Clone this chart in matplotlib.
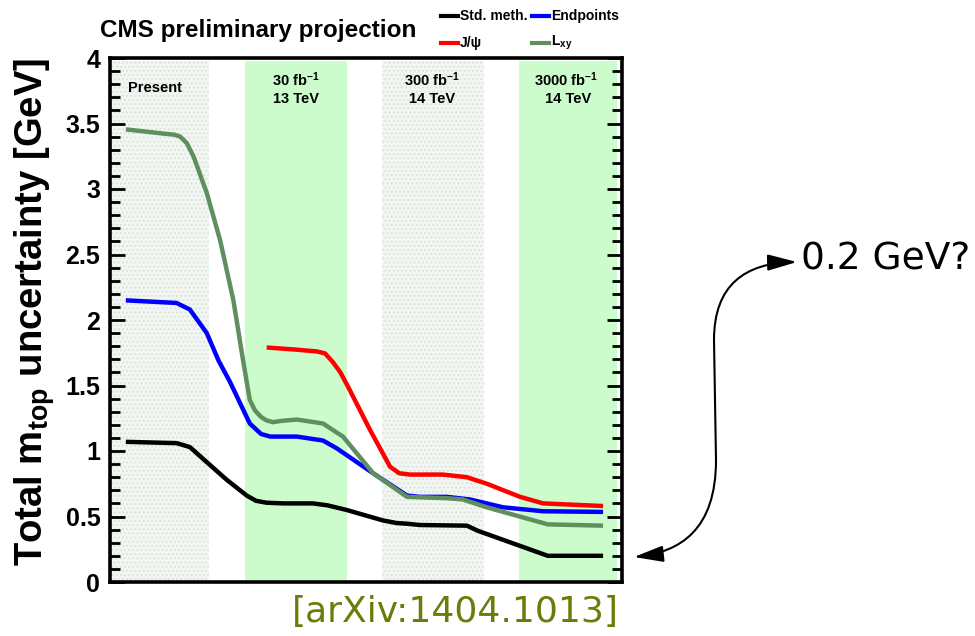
import matplotlib
import numpy as np

matplotlib.use("Agg")
import matplotlib.pyplot as plt
from matplotlib.lines import Line2D
from matplotlib.patches import FancyArrowPatch
from matplotlib.path import Path

plt.rcParams["font.family"] = ["Liberation Sans", "DejaVu Sans"]
plt.rcParams["mathtext.fontset"] = "custom"
plt.rcParams["mathtext.rm"] = "Liberation Sans:bold"
plt.rcParams["mathtext.bf"] = "Liberation Sans:bold"
plt.rcParams["mathtext.it"] = "Liberation Sans:bold"

W, H = 975, 636

# x is an arbitrary "time / luminosity" axis (0-100), no ticks shown
x_std = [3.1, 13.0, 15.6, 17.6, 22.8, 26.7, 28.5, 30.6, 34.0, 39.6, 42.5, 46.2,
         53.3, 56.0, 58.0, 60.5, 69.7, 71.9, 85.5, 96.3]
std_meth = [1.07, 1.06, 1.03, 0.96, 0.78, 0.66, 0.62, 0.605, 0.60, 0.60, 0.585, 0.55,
            0.47, 0.45, 0.445, 0.435, 0.43, 0.39, 0.20, 0.20]

x_end = [3.1, 13.0, 15.6, 18.9, 21.2, 23.4, 27.3, 29.5, 31.3, 36.5, 41.6, 44.3,
         51.4, 58.0, 60.5, 65.8, 70.3, 76.8, 84.6, 96.3]
endpoints = [2.15, 2.13, 2.08, 1.90, 1.69, 1.53, 1.21, 1.13, 1.11, 1.11, 1.08, 1.02,
             0.83, 0.66, 0.65, 0.65, 0.63, 0.57, 0.54, 0.535]

x_jpsi = [30.6, 36.0, 40.4, 42.0, 43.5, 45.0, 46.5, 50.8, 54.7, 56.5, 58.6, 65.0,
          69.7, 73.6, 80.1, 84.6, 96.3]
jpsi = [1.79, 1.775, 1.76, 1.745, 1.68, 1.60, 1.49, 1.16, 0.88, 0.83, 0.82, 0.82,
        0.80, 0.75, 0.65, 0.60, 0.58]

x_lxy = [3.1, 11.1, 12.5, 13.7, 15.0, 16.3, 18.9, 21.5, 24.1, 26.0, 27.3, 28.3,
         29.5, 30.5, 31.8, 33.5, 36.5, 41.6, 45.5, 51.4, 58.0, 65.8, 68.9, 73.6,
         85.5, 96.3]
lxy = [3.455, 3.42, 3.415, 3.40, 3.35, 3.25, 2.97, 2.61, 2.15, 1.69, 1.39, 1.31,
       1.26, 1.235, 1.22, 1.23, 1.24, 1.21, 1.11, 0.83, 0.65, 0.64, 0.63, 0.57,
       0.44, 0.43]

# phase bands: (start, end, kind)
band_edges = [(0.0, 19.3), (26.4, 46.3), (53.1, 73.0), (79.9, 99.0)]
band_kind = ["dotted", "green", "dotted", "green"]
band_labels = ["Present", "30 fb$^{\\mathbf{-1}}$\n13 TeV",
               "300 fb$^{\\mathbf{-1}}$\n14 TeV", "3000 fb$^{\\mathbf{-1}}$\n 14 TeV"]
band_label_x = [8.8, 36.3, 62.9, 89.1]


def fx(px):
    return px / W


def fy(py):
    return 1 - py / H


fig = plt.figure(figsize=(W / 100, H / 100), dpi=100)
ax = fig.add_axes([fx(110), fy(582), (622 - 110) / W, (582 - 58) / H])

for (x0, x1), kind in zip(band_edges, band_kind):
    if kind == "green":
        ax.axvspan(x0, x1, ymin=0.004, ymax=0.994, color="#ccfccc", lw=0, zorder=0)
    else:
        ax.axvspan(x0, x1, ymin=0.004, ymax=0.994, facecolor="#f3f6f3",
                   edgecolor="#d9e6d9", hatch="....", lw=0, zorder=0)

for lab, xc in zip(band_labels, band_label_x):
    ax.text(xc, 3.77, lab, ha="center", va="center", fontsize=10.5,
            fontweight="bold", linespacing=1.25)

lw = 3.2
ax.plot(x_std, std_meth, color="black", lw=lw, solid_capstyle="butt")
ax.plot(x_end, endpoints, color="#0000ff", lw=lw, solid_capstyle="butt")
ax.plot(x_jpsi, jpsi, color="#ff0000", lw=lw, solid_capstyle="butt")
ax.plot(x_lxy, lxy, color="#5f8f5f", lw=lw, solid_capstyle="butt")

ax.set_xlim(0, 100)
ax.set_ylim(0, 4)
ax.set_xticks([])
ax.set_yticks(np.arange(0, 4.01, 0.5))
ax.set_yticklabels(["0", "0.5", "1", "1.5", "2", "2.5", "3", "3.5", "4"])
ax.set_yticks(np.arange(0, 4.01, 0.1), minor=True)
ax.tick_params(axis="y", which="both", direction="in", left=True, right=True,
               width=2, labelsize=18, pad=7)
ax.tick_params(axis="y", which="major", length=11)
ax.tick_params(axis="y", which="minor", length=7)
for lbl in ax.get_yticklabels():
    lbl.set_fontweight("bold")
for sp in ax.spines.values():
    sp.set_linewidth(2.6)

ax.set_ylabel(r"Total m$_{\mathbf{top}}$ uncertainty [GeV]", fontsize=27.5,
              fontweight="bold")
ax.yaxis.set_label_coords(-0.103, 0.515)

# title and legend above the frame
fig.text(fx(100), fy(31), "CMS preliminary projection", fontsize=17.5,
         fontweight="bold", va="center", ha="left")

legend_items = [("Std. meth.", "black", 441, 16),
                ("Endpoints", "#0000ff", 532, 16),
                ("J/\u03c8", "#ff0000", 441, 43),
                ("L$_{\\mathbf{xy}}$", "#5f8f5f", 532, 43)]
for text, col, px, py in legend_items:
    fig.add_artist(Line2D([fx(px), fx(px + 17)], [fy(py), fy(py)], color=col,
                          lw=3, transform=fig.transFigure))
    fig.text(fx(px + 19), fy(py), text, fontsize=10, fontweight="bold",
             va="center", ha="left")

# double-headed S arrow pointing to the 0.2 GeV level
verts = [(634, 557), (680, 552), (716, 530), (716, 460),
         (714, 340),
         (714, 285), (745, 263), (797, 262)]
codes = [Path.MOVETO, Path.CURVE4, Path.CURVE4, Path.CURVE4,
         Path.LINETO,
         Path.CURVE4, Path.CURVE4, Path.CURVE4]
path = Path([(fx(a), fy(b)) for a, b in verts], codes)
arrow = FancyArrowPatch(path=path, arrowstyle="<|-|>,head_length=0.9,head_width=0.25",
                        mutation_scale=20, color="black", lw=1.5,
                        transform=fig.transFigure)
fig.add_artist(arrow)

fig.text(fx(801), fy(259), "0.2 GeV?", fontsize=27, family="DejaVu Sans",
         va="center", ha="left")
fig.text(fx(292), fy(612), "[arXiv:1404.1013]", fontsize=26, family="DejaVu Sans",
         color="#6c7c08", va="center", ha="left")

fig.savefig("out.png", dpi=100)
